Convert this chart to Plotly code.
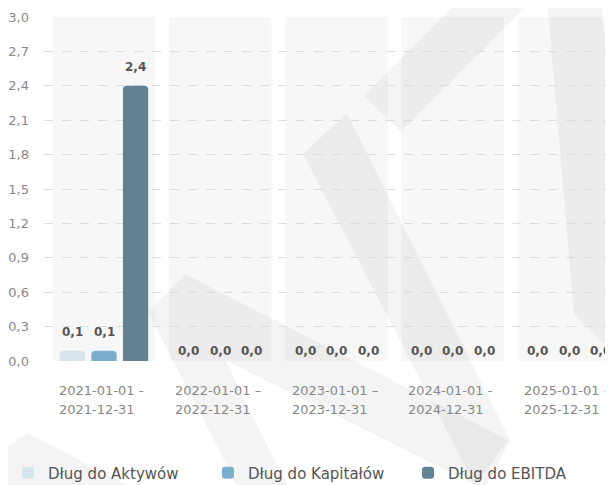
import plotly.graph_objects as go

# ---- data ----
periods = ["2021", "2022", "2023", "2024", "2025"]
label_line1 = ["2021-01-01 -", "2022-01-01 –", "2023-01-01 –", "2024-01-01 -", "2025-01-01 -"]
label_line2 = ["2021-12-31", "2022-12-31", "2023-12-31", "2024-12-31", "2025-12-31"]
series_names = ["Dług do Aktywów", "Dług do Kapitałów", "Dług do EBITDA"]
dlug_aktywa = [0.09, 0.0, 0.0, 0.0, 0.0]
dlug_kapital = [0.09, 0.0, 0.0, 0.0, 0.0]
dlug_ebitda = [2.4, 0.0, 0.0, 0.0, 0.0]
y_ticks = [0.0, 0.3, 0.6, 0.9, 1.2, 1.5, 1.8, 2.1, 2.4, 2.7, 3.0]

series_values = [dlug_aktywa, dlug_kapital, dlug_ebitda]
colors = ["#d6e4ec", "#7aaecd", "#628294"]
legend_widths = [155, 155, 128]

# the page body has an 8px margin; the figure is sized to end at the window edges
OX, OY = 8, 8
W, H = 605, 477
ML, MR, MT, MB = 36, 0, 9, 124
plot_w = W - ML - MR
plot_h = H - MT - MB
pitch = 116.25
r0 = -60 / pitch
r1 = r0 + plot_w / pitch
cats = list(range(len(periods)))

fig = go.Figure()
for name, vals, col, lw in zip(series_names, series_values, colors, legend_widths):
    fig.add_trace(go.Bar(
        x=cats, y=vals, name=name,
        marker=dict(color=col, line=dict(width=0)),
        legendwidth=lw,
        hoverinfo="skip",
    ))

shapes = []
# category background bands
for i in cats:
    shapes.append(dict(type="rect", xref="x", yref="paper",
                       x0=i - 0.44, x1=i + 0.44, y0=0, y1=1,
                       fillcolor="#f7f7f7", line=dict(width=0), layer="below"))

# faint watermark (window-pixel polygons)
watermark = [
    [(364, 96), (459, 0), (533, 0), (401, 132)],
    [(547, 0), (601, 0), (625, 245), (625, 330), (603, 343), (574, 314)],
    [(303, 154), (347, 113), (510, 440), (487, 485), (475, 485)],
    [(148, 312), (185, 274), (508, 440), (476, 485), (225, 360), (287, 485), (237, 485)],
    [(0, 452), (27, 433), (127, 485), (0, 485)],
]
def px2paper(p):
    x = p[0] - OX
    y = p[1] - OY
    return ((x - ML) / plot_w, (MT + plot_h - y) / plot_h)
for poly in watermark:
    pts = [px2paper(p) for p in poly]
    path = "M" + " L".join(f"{x:.4f},{y:.4f}" for x, y in pts) + " Z"
    shapes.append(dict(type="path", xref="paper", yref="paper", path=path,
                       fillcolor="rgba(0,0,0,0.045)", line=dict(width=0), layer="below"))

annotations = []
# value labels
offsets = [-31.5, 0, 31.5]
for j, vals in enumerate(series_values):
    for i, v in enumerate(vals):
        annotations.append(dict(
            x=i, y=v, xref="x", yref="y",
            text=f"{v:.1f}".replace(".", ","),
            showarrow=False, xshift=offsets[j],
            yshift=18.5 if v > 0 else 10, yanchor="middle",
            font=dict(family="DejaVu Sans", size=12, color="#555555", weight="bold"),
        ))
# category labels (two left-aligned lines)
for i in cats:
    for k, (txt, ys) in enumerate([(label_line1[i], -29), (label_line2[i], -48)]):
        annotations.append(dict(
            x=i, y=0, xref="x", yref="y", text=txt, showarrow=False,
            xanchor="left", yanchor="middle", xshift=-47, yshift=ys,
            font=dict(family="DejaVu Sans", size=13, color="#888888"),
        ))

fig.update_layout(
    width=W, height=H,
    margin=dict(l=ML, r=MR, t=MT, b=MB, pad=0),
    paper_bgcolor="white", plot_bgcolor="white",
    barmode="group", bargap=0.185, bargroupgap=0.2, barcornerradius=4,
    separators=", ",
    font=dict(family="DejaVu Sans", size=13, color="#888888"),
    showlegend=True,
    legend=dict(orientation="h", xref="container", yref="container",
                x=0, y=1 - (473 - OY) / H, xanchor="left", yanchor="middle",
                entrywidthmode="pixels",
                font=dict(family="DejaVu Sans", size=15, color="#555555"),
                bgcolor="rgba(0,0,0,0)"),
    shapes=shapes,
    annotations=annotations,
)
fig.update_xaxes(
    type="linear", range=[r0, r1],
    showticklabels=False,
    showgrid=False, zeroline=False, showline=False, ticks="",
)
fig.update_yaxes(
    range=[0, 3.0], tickmode="array", tickvals=y_ticks,
    tickformat=".1f",
    showgrid=True, gridcolor="#dddddd", griddash="dash", gridwidth=1,
    zeroline=False, showline=False, ticks="",
    ticklabelstandoff=14,
    tickfont=dict(family="DejaVu Sans", size=13, color="#888888"),
)

fig.write_html("out.html")
